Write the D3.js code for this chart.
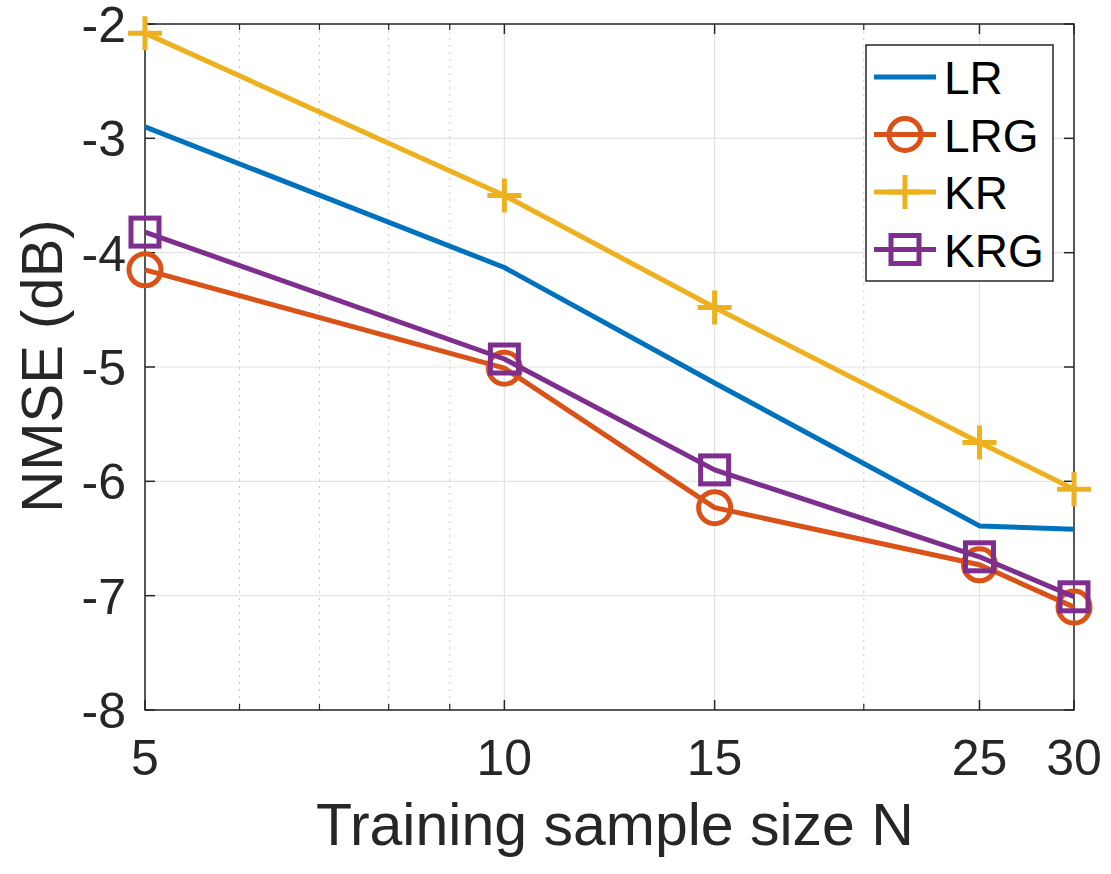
<!DOCTYPE html>
<html>
<head>
<meta charset="utf-8">
<script src="https://cdn.jsdelivr.net/npm/d3@7"></script>
<style>
  body { margin: 0; background: #fff; }
  text { font-family: "Liberation Sans", Helvetica, Arial, sans-serif; fill: #262626; }
</style>
</head>
<body>
<div id="plot"></div>
<script>
// data
var sampleSizes = [5, 10, 15, 25, 30];
var seriesNames = ["LR", "LRG", "KR", "KRG"];
var lrValues  = [-2.90, -4.13, -5.14, -6.39, -6.42];
var lrgValues = [-4.15, -5.01, -6.23, -6.73, -7.10];
var krValues  = [-2.08, -3.50, -4.48, -5.66, -6.07];
var krgValues = [-3.82, -4.93, -5.90, -6.66, -7.01];
var yTicks = [-8, -7, -6, -5, -4, -3, -2];
var xMinor = [6, 7, 8, 9, 20];

var w = 1111, h = 874;
var margin = {top: 24, right: 37, bottom: 164, left: 145};
var innerWidth = w - margin.left - margin.right;
var innerHeight = h - margin.top - margin.bottom;

var xScale = d3.scaleLog().domain([5, 30]).range([0, innerWidth]);
var yScale = d3.scaleLinear().domain([-8, -2]).range([innerHeight, 0]);

var series = [
  {name: seriesNames[0], values: lrValues,  color: "#0072bd", marker: "none"},
  {name: seriesNames[1], values: lrgValues, color: "#d95319", marker: "circle"},
  {name: seriesNames[2], values: krValues,  color: "#edb120", marker: "plus"},
  {name: seriesNames[3], values: krgValues, color: "#7e2f8e", marker: "square"}
];

var svg = d3.select("#plot").append("svg")
    .attr("width", w)
    .attr("height", h);

var g = svg.append("g")
    .attr("transform", `translate(${margin.left},${margin.top})`);

// grid
g.selectAll(".ygrid").data(yTicks).enter().append("line")
    .attr("x1", 0).attr("x2", innerWidth)
    .attr("y1", d => yScale(d)).attr("y2", d => yScale(d))
    .attr("stroke", "#e3e3e3").attr("stroke-width", 1.2);

g.selectAll(".xgrid").data(sampleSizes).enter().append("line")
    .attr("x1", d => xScale(d)).attr("x2", d => xScale(d))
    .attr("y1", 0).attr("y2", innerHeight)
    .attr("stroke", "#e3e3e3").attr("stroke-width", 1.2);

g.selectAll(".xminor").data(xMinor).enter().append("line")
    .attr("x1", d => xScale(d)).attr("x2", d => xScale(d))
    .attr("y1", 0).attr("y2", innerHeight)
    .attr("stroke", "#c8c8c8").attr("stroke-width", 1)
    .attr("stroke-dasharray", "2,5");

// box
g.append("rect")
    .attr("width", innerWidth).attr("height", innerHeight)
    .attr("fill", "none").attr("stroke", "#262626").attr("stroke-width", 1.5);

// ticks (inward, on both sides)
var tickLen = 10, minorLen = 6;
sampleSizes.forEach(function(d) {
  g.append("line").attr("x1", xScale(d)).attr("x2", xScale(d))
    .attr("y1", innerHeight).attr("y2", innerHeight - tickLen)
    .attr("stroke", "#262626").attr("stroke-width", 1.5);
  g.append("line").attr("x1", xScale(d)).attr("x2", xScale(d))
    .attr("y1", 0).attr("y2", tickLen)
    .attr("stroke", "#262626").attr("stroke-width", 1.5);
});
xMinor.forEach(function(d) {
  g.append("line").attr("x1", xScale(d)).attr("x2", xScale(d))
    .attr("y1", innerHeight).attr("y2", innerHeight - minorLen)
    .attr("stroke", "#262626").attr("stroke-width", 1.2);
  g.append("line").attr("x1", xScale(d)).attr("x2", xScale(d))
    .attr("y1", 0).attr("y2", minorLen)
    .attr("stroke", "#262626").attr("stroke-width", 1.2);
});
yTicks.forEach(function(d) {
  g.append("line").attr("x1", 0).attr("x2", tickLen)
    .attr("y1", yScale(d)).attr("y2", yScale(d))
    .attr("stroke", "#262626").attr("stroke-width", 1.5);
  g.append("line").attr("x1", innerWidth).attr("x2", innerWidth - tickLen)
    .attr("y1", yScale(d)).attr("y2", yScale(d))
    .attr("stroke", "#262626").attr("stroke-width", 1.5);
});

// tick labels
g.selectAll(".xlab").data(sampleSizes).enter().append("text")
    .attr("x", d => xScale(d))
    .attr("y", innerHeight + 65)
    .attr("text-anchor", "middle")
    .attr("font-size", 50)
    .text(d => d);

g.selectAll(".ylab").data(yTicks).enter().append("text")
    .attr("x", -19)
    .attr("y", d => yScale(d) + 18)
    .attr("text-anchor", "end")
    .attr("font-size", 50)
    .text(d => d);

// axis titles
svg.append("text")
    .attr("x", 615)
    .attr("y", 845)
    .attr("text-anchor", "middle")
    .attr("font-size", 59)
    .text("Training sample size N");

svg.append("text")
    .attr("transform", `translate(62,366) rotate(-90)`)
    .attr("text-anchor", "middle")
    .attr("font-size", 58)
    .text("NMSE (dB)");

// lines
var line = d3.line()
    .x((d, i) => xScale(sampleSizes[i]))
    .y(d => yScale(d));

function drawMarker(sel, type, color, x, y) {
  if (type === "circle") {
    sel.append("circle").attr("cx", x).attr("cy", y).attr("r", 16)
      .attr("fill", "none").attr("stroke", color).attr("stroke-width", 5);
  } else if (type === "square") {
    sel.append("rect").attr("x", x - 14).attr("y", y - 14)
      .attr("width", 28).attr("height", 28)
      .attr("fill", "none").attr("stroke", color).attr("stroke-width", 5);
  } else if (type === "plus") {
    sel.append("path")
      .attr("d", `M${x - 17},${y}H${x + 17}M${x},${y - 17}V${y + 17}`)
      .attr("stroke", color).attr("stroke-width", 5);
  }
}

series.forEach(function(s) {
  g.append("path")
    .datum(s.values)
    .attr("d", line)
    .attr("fill", "none")
    .attr("stroke", s.color)
    .attr("stroke-width", 5)
    .attr("stroke-linejoin", "round");
  s.values.forEach(function(v, i) {
    drawMarker(g, s.marker, s.color, xScale(sampleSizes[i]), yScale(v));
  });
});

// legend
var legend = svg.append("g").attr("transform", "translate(866,45)");
legend.append("rect")
    .attr("width", 187).attr("height", 236)
    .attr("fill", "#fff").attr("stroke", "#262626").attr("stroke-width", 1.5);

series.forEach(function(s, i) {
  var y = 32 + i * 57.5;
  legend.append("line")
    .attr("x1", 8).attr("x2", 70)
    .attr("y1", y).attr("y2", y)
    .attr("stroke", s.color).attr("stroke-width", 5);
  drawMarker(legend, s.marker, s.color, 39, y);
  legend.append("text")
    .attr("x", 78)
    .attr("y", y + 17)
    .attr("font-size", 46)
    .style("fill", "#000")
    .text(s.name);
});
</script>
</body>
</html>
